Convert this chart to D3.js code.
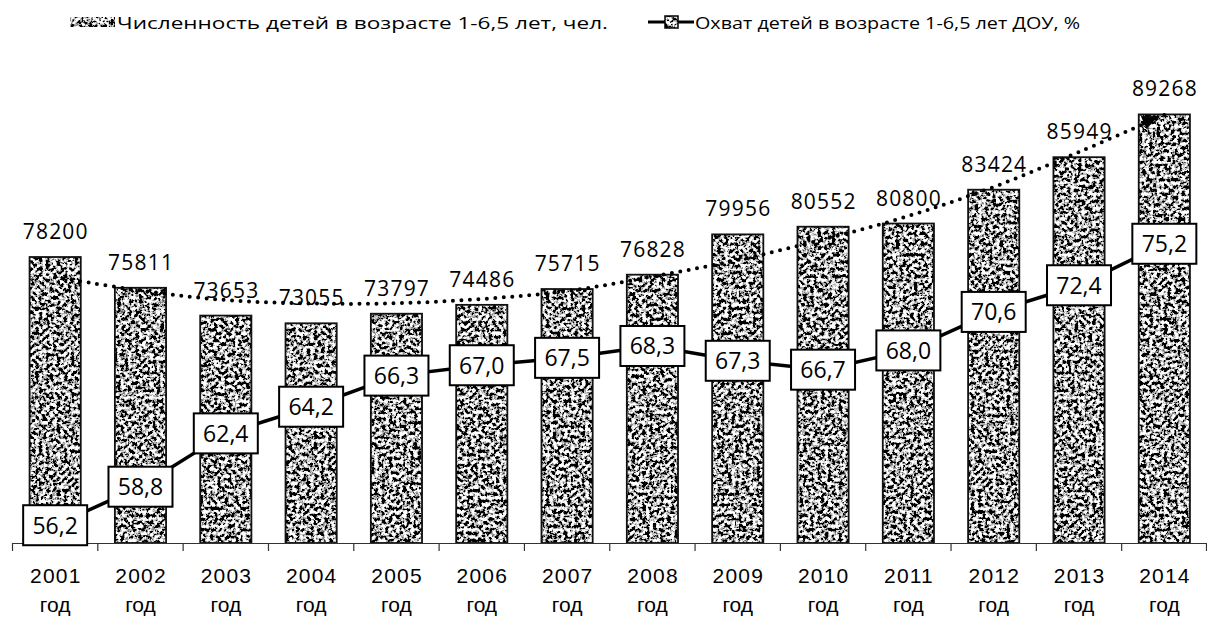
<!DOCTYPE html>
<html>
<head>
<meta charset="utf-8">
<script src="https://cdn.jsdelivr.net/npm/d3@7"></script>
<style>
  html, body { margin: 0; padding: 0; background: #fff; }
  svg { display: block; font-family: "Open Sans", sans-serif; }
</style>
</head>
<body>
<svg id="chart" width="1207" height="620"></svg>
<script>
const years = ["2001","2002","2003","2004","2005","2006","2007","2008","2009","2010","2011","2012","2013","2014"];
const yearSuffix = "год";
const children = [78200,75811,73653,73055,73797,74486,75715,76828,79956,80552,80800,83424,85949,89268];
const coverage = [56.2,58.8,62.4,64.2,66.3,67.0,67.5,68.3,67.3,66.7,68.0,70.6,72.4,75.2];
// polynomial trendline of the bar series
const trend = [76650,75600,74860,74590,74610,74940,75560,76680,77970,79560,81380,83640,86350,89230];
const legendBars = "Численность детей в возрасте 1-6,5 лет, чел.";
const legendLine = "Охват детей в возрасте 1-6,5 лет ДОУ, %";

const svg = d3.select("#chart");
const defs = svg.append("defs");

// speckled texture filter
const f = defs.append("filter").attr("id", "speckle")
  .attr("x", 0).attr("y", 0).attr("width", 1).attr("height", 1);
f.append("feTurbulence").attr("type", "fractalNoise").attr("baseFrequency", 0.28)
  .attr("numOctaves", 4).attr("seed", 11).attr("result", "n");
f.append("feColorMatrix").attr("in", "n").attr("type", "matrix")
  .attr("values", "5 0 0 0 -2.1  5 0 0 0 -2.1  5 0 0 0 -2.1  0 0 0 0 1").attr("result", "c");
f.append("feComposite").attr("in", "c").attr("in2", "SourceGraphic").attr("operator", "in");

const axisY = 543;
const x = d3.scaleBand().domain(years).range([12.5, 1207]).padding(0);
const yBar = d3.scaleLinear().domain([56000, 90000]).range([axisY, 105]);
const yLine = d3.scaleLinear().domain([55, 85]).range([axisY, 98.6]);
const cx = d => x(d) + x.bandwidth() / 2;
const barW = x.bandwidth() * 0.6;

// bars
const bars = svg.append("g");
bars.selectAll("rect.fill").data(years).join("rect")
  .attr("class", "fill")
  .attr("x", d => cx(d) - barW / 2)
  .attr("y", (d, i) => yBar(children[i]))
  .attr("width", barW)
  .attr("height", (d, i) => axisY - yBar(children[i]))
  .attr("fill", "#000")
  .attr("filter", "url(#speckle)");
bars.selectAll("rect.border").data(years).join("rect")
  .attr("class", "border")
  .attr("x", d => cx(d) - barW / 2)
  .attr("y", (d, i) => yBar(children[i]))
  .attr("width", barW)
  .attr("height", (d, i) => axisY - yBar(children[i]))
  .attr("fill", "none").attr("stroke", "#111").attr("stroke-width", 1.8);

// bar labels
svg.append("g").selectAll("text").data(years).join("text")
  .attr("x", d => cx(d) + 0.6)
  .attr("y", (d, i) => yBar(children[i]) - 18)
  .attr("text-anchor", "middle")
  .attr("font-size", 21).attr("letter-spacing", 1.2).attr("fill", "#000")
  .text((d, i) => children[i]);

// axis
const axis = d3.axisBottom(x).tickSize(0).tickSizeOuter(0).tickFormat("");
const ag = svg.append("g").attr("transform", `translate(0,${axisY})`).call(axis);
ag.select(".domain").attr("stroke", "#333").attr("stroke-width", 1.2);
const bounds = years.map(d => x(d)).concat([x.range()[1] - 0.5]);
ag.selectAll("line.bt").data(bounds).join("line").attr("class", "bt")
  .attr("x1", d => d).attr("x2", d => d).attr("y1", 0).attr("y2", 8)
  .attr("stroke", "#333").attr("stroke-width", 1.2);
ag.selectAll(".tick").each(function(d) {
  const t = d3.select(this).append("text").attr("text-anchor", "middle")
    .attr("fill", "#000").attr("font-size", 21);
  t.append("tspan").attr("x", 0.6).attr("y", 40).attr("letter-spacing", 1.2).text(d);
  t.append("tspan").attr("x", 0).attr("y", 68.5).text(yearSuffix);
});

// trendline (dotted) with arrow
const trendLine = d3.line().x(d => cx(d)).y((d, i) => yBar(trend[i])).curve(d3.curveCatmullRom);
svg.append("path").attr("d", trendLine(years))
  .attr("fill", "none").attr("stroke", "#000").attr("stroke-width", 4)
  .attr("stroke-linecap", "round").attr("stroke-dasharray", "0 8.5");
{
  const n = years.length;
  const x1 = cx(years[n - 2]), y1 = yBar(trend[n - 2]);
  const x2 = cx(years[n - 1]) - 6, y2 = yBar(trend[n - 1]) + 1;
  const ang = Math.atan2(y2 - y1, x2 - x1);
  const L = 16, W = 7;
  const bx = x2 - L * Math.cos(ang), by = y2 - L * Math.sin(ang);
  const pts = [[x2, y2],
    [bx + W * Math.sin(ang), by - W * Math.cos(ang)],
    [bx - W * Math.sin(ang), by + W * Math.cos(ang)]];
  svg.append("path").attr("d", "M" + pts.map(p => p.join(",")).join("L") + "Z").attr("fill", "#000");
}

// coverage line
const covLine = d3.line().x(d => cx(d)).y((d, i) => yLine(coverage[i]));
svg.append("path").attr("d", covLine(years))
  .attr("fill", "none").attr("stroke", "#000").attr("stroke-width", 3.5);

// coverage labels (boxes centred on points)
const lab = svg.append("g").selectAll("g").data(years).join("g")
  .attr("transform", (d, i) => `translate(${cx(d)},${yLine(coverage[i])})`);
lab.append("rect").attr("x", -32).attr("y", -20).attr("width", 64).attr("height", 40)
  .attr("fill", "#fff").attr("stroke", "#000").attr("stroke-width", 2);
lab.append("text").attr("text-anchor", "middle").attr("y", 8.5)
  .attr("font-size", 23).attr("fill", "#000")
  .text((d, i) => coverage[i].toFixed(1).replace(".", ","));

// legend
const lg = svg.append("g");
lg.append("rect").attr("x", 70).attr("y", 17).attr("width", 45).attr("height", 10)
  .attr("fill", "#000").attr("filter", "url(#speckle)");
lg.append("text").attr("x", 117).attr("y", 29).attr("font-size", 17)
  .attr("textLength", 491).attr("lengthAdjust", "spacingAndGlyphs").text(legendBars);
lg.append("line").attr("x1", 648).attr("x2", 694).attr("y1", 22).attr("y2", 22)
  .attr("stroke", "#000").attr("stroke-width", 3);
lg.append("rect").attr("x", 665).attr("y", 16).attr("width", 13).attr("height", 12)
  .attr("fill", "#000").attr("filter", "url(#speckle)");
lg.append("rect").attr("x", 665).attr("y", 16).attr("width", 13).attr("height", 12)
  .attr("fill", "none").attr("stroke", "#000").attr("stroke-width", 1.5);
lg.append("text").attr("x", 695).attr("y", 29).attr("font-size", 17)
  .attr("textLength", 385).attr("lengthAdjust", "spacingAndGlyphs").text(legendLine);
</script>
</body>
</html>
